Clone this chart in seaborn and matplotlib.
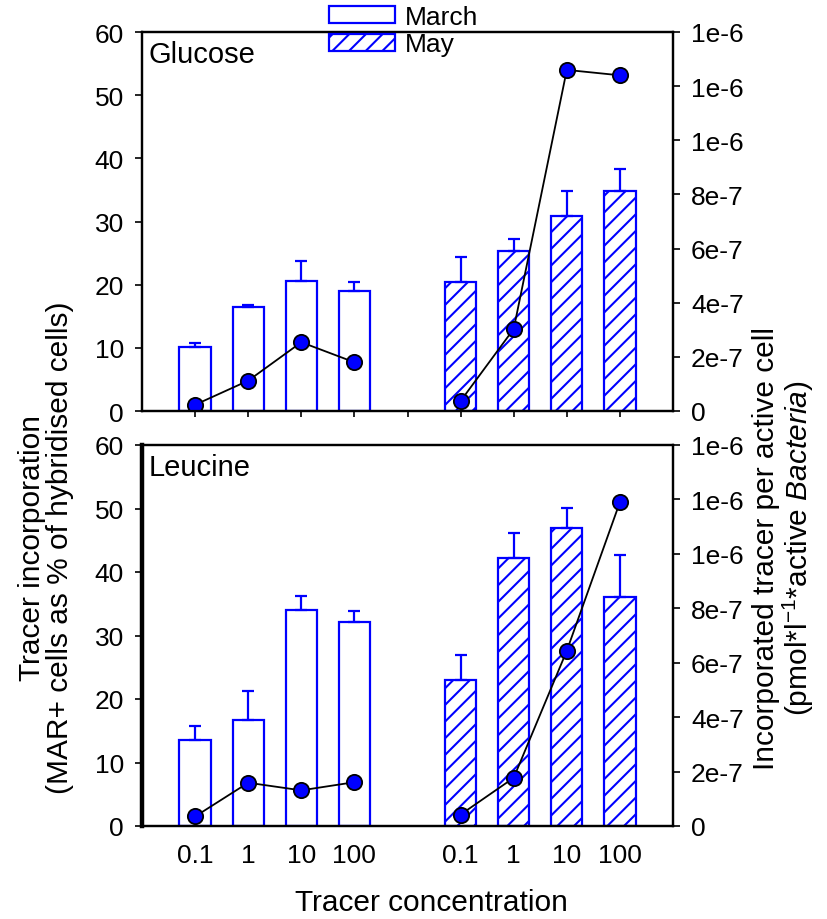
import numpy as np
import pandas as pd
import matplotlib
matplotlib.use("Agg")
import matplotlib.pyplot as plt
import seaborn as sns
from matplotlib.patches import Patch
from matplotlib.ticker import FuncFormatter

# ---------------- data ----------------
conc = ["0.1", "1", "10", "100"]
months = ["March", "May"]

# Glucose: % MAR+ cells (left axis)
glu_march = [10.2, 16.5, 20.6, 19.0]
glu_march_err = [0.6, 0.3, 3.2, 1.4]
glu_may = [20.4, 25.4, 30.8, 34.8]
glu_may_err = [4.0, 1.8, 4.0, 3.5]
# Glucose: tracer per active cell (right axis)
glu_march_cell = [2.3e-8, 1.12e-7, 2.54e-7, 1.80e-7]
glu_may_cell = [3.7e-8, 3.03e-7, 1.26e-6, 1.24e-6]

# Leucine
leu_march = [13.5, 16.7, 34.0, 32.2]
leu_march_err = [2.2, 4.5, 2.2, 1.6]
leu_may = [23.0, 42.2, 46.9, 36.0]
leu_may_err = [4.0, 3.9, 3.2, 6.6]
leu_march_cell = [3.5e-8, 1.59e-7, 1.31e-7, 1.61e-7]
leu_may_cell = [4.2e-8, 1.77e-7, 6.44e-7, 1.19e-6]

left_ticks = [0, 10, 20, 30, 40, 50, 60]
right_ticks = [0, 2e-7, 4e-7, 6e-7, 8e-7, 1.0e-6, 1.2e-6, 1.4e-6]

# ---------------- style ----------------
sns.set_theme(style="ticks")
plt.rcParams["font.family"] = ["Liberation Sans", "DejaVu Sans"]
plt.rcParams["mathtext.fontset"] = "custom"
plt.rcParams["mathtext.rm"] = "Liberation Sans"
plt.rcParams["mathtext.it"] = "Liberation Sans:italic"
plt.rcParams["hatch.linewidth"] = 1.5
plt.rcParams["hatch.color"] = "blue"
plt.rcParams["text.color"] = "black"
plt.rcParams["axes.labelcolor"] = "black"
plt.rcParams["xtick.color"] = "black"
plt.rcParams["ytick.color"] = "black"
plt.rcParams["xtick.labelcolor"] = "black"
plt.rcParams["ytick.labelcolor"] = "black"

BLUE = "#0000ff"
TICK_FS = 19
LABEL_FS = 21.5

order = [f"March {c}" for c in conc] + ["gap"] + [f"May {c}" for c in conc]
tick_labels = conc + [""] + conc
pos = {c: i for i, c in enumerate(order)}


def right_fmt(v, p):
    if abs(v) < 1e-15:
        return "0"
    s = f"{v:.0e}"
    m, e = s.split("e")
    return f"{m}e{int(e)}"


def panel(ax, march, march_err, may, may_err, march_cell, may_cell, name, bottom):
    cats_m = [f"March {c}" for c in conc]
    cats_y = [f"May {c}" for c in conc]
    df_m = pd.DataFrame({"cat": cats_m, "val": march})
    df_y = pd.DataFrame({"cat": cats_y, "val": may})
    sns.barplot(data=df_m, x="cat", y="val", order=order, ax=ax, color="white",
                edgecolor=BLUE, linewidth=1.6, width=0.59, errorbar=None,
                saturation=1)
    sns.barplot(data=df_y, x="cat", y="val", order=order, ax=ax, color="white",
                edgecolor=BLUE, linewidth=1.6, width=0.59, errorbar=None,
                saturation=1, hatch="//")
    for cats, vals, err in [(cats_m, march, march_err), (cats_y, may, may_err)]:
        xs = [pos[c] for c in cats]
        ax.errorbar(xs, vals, yerr=[np.zeros(len(err)), err], fmt="none",
                    ecolor=BLUE, elinewidth=1.6, capsize=4.5, capthick=1.6,
                    zorder=1)
    ax.set_ylim(0, 60)
    ax.set_yticks(left_ticks)
    ax.set_xlim(-1, 9)
    ax.set_xticks(range(len(order)))
    ax.set_xlabel("")
    ax.set_ylabel("")
    ax.tick_params(axis="y", direction="out", length=5, width=1.2,
                   labelsize=TICK_FS, pad=8, colors="black")
    if bottom:
        ax.set_xticklabels(tick_labels)
        ax.tick_params(axis="x", length=0, labelsize=TICK_FS, pad=12,
                       colors="black")
    else:
        ax.set_xticklabels([""] * len(order))
        ax.tick_params(axis="x", direction="out", length=4, width=1.2,
                       colors="black")
    for s in ax.spines.values():
        s.set_visible(True)
        s.set_linewidth(1.6)
        s.set_color("black")
    if bottom:
        ax.spines["left"].set_linewidth(3.2)

    ax.text(0.012, 0.978, name, transform=ax.transAxes, ha="left", va="top",
            fontsize=21, color="black")

    ax2 = ax.twinx()
    for cats, vals in [(cats_m, march_cell), (cats_y, may_cell)]:
        xs = [pos[c] for c in cats]
        sns.lineplot(x=xs, y=vals, ax=ax2, color="black", linewidth=1.3,
                     marker="o", markersize=11, markerfacecolor=BLUE,
                     markeredgecolor="black", markeredgewidth=1.3,
                     errorbar=None, sort=False)
    ax2.set_ylim(0, 1.4e-6)
    ax2.set_yticks(right_ticks)
    ax2.yaxis.set_major_formatter(FuncFormatter(right_fmt))
    ax2.tick_params(axis="y", direction="out", length=5, width=1.2,
                    labelsize=TICK_FS, pad=8, colors="black")
    ax2.set_ylabel("")
    ax2.set_xlabel("")
    for s in ax2.spines.values():
        s.set_linewidth(1.6)
        s.set_color("black")
    ax.set_xlim(-1, 9)
    return ax2


fig = plt.figure(figsize=(8.28, 9.2), dpi=100)
W, H = 828, 920
ax_top = fig.add_axes([142 / W, 1 - 412 / H, 531 / W, 379 / H])
ax_bot = fig.add_axes([142 / W, 1 - 827 / H, 531 / W, 381 / H])

panel(ax_top, glu_march, glu_march_err, glu_may, glu_may_err,
      glu_march_cell, glu_may_cell, "Glucose", bottom=False)
panel(ax_bot, leu_march, leu_march_err, leu_may, leu_may_err,
      leu_march_cell, leu_may_cell, "Leucine", bottom=True)

# legend
handles = [Patch(facecolor="white", edgecolor=BLUE, linewidth=1.6),
           Patch(facecolor="white", edgecolor=BLUE, linewidth=1.6, hatch="//")]
fig.legend(handles, months, loc="upper left", bbox_to_anchor=(329 / W, 1 - 6 / H),
           frameon=False, fontsize=19, handlelength=2.5, handleheight=0.62,
           handletextpad=0.38, labelspacing=0.13, borderpad=0, borderaxespad=0,
           labelcolor="black")

# axis labels
fig.text(46 / W, 1 - 548 / H,
         "Tracer incorporation\n(MAR+ cells as % of hybridised cells)",
         rotation=90, ha="center", va="center", fontsize=LABEL_FS, linespacing=1.03,
         multialignment="center", color="black")
fig.text(784 / W, 1 - 548 / H,
         "Incorporated tracer per active cell\n(pmol*l$^{-1}$*active $\\it{Bacteria}$)",
         rotation=90, ha="center", va="center", fontsize=LABEL_FS, linespacing=1.03,
         multialignment="center", color="black")
fig.text(431 / W, 1 - 903 / H, "Tracer concentration", ha="center", va="center",
         fontsize=LABEL_FS, color="black")

fig.savefig("out.png", dpi=100)
